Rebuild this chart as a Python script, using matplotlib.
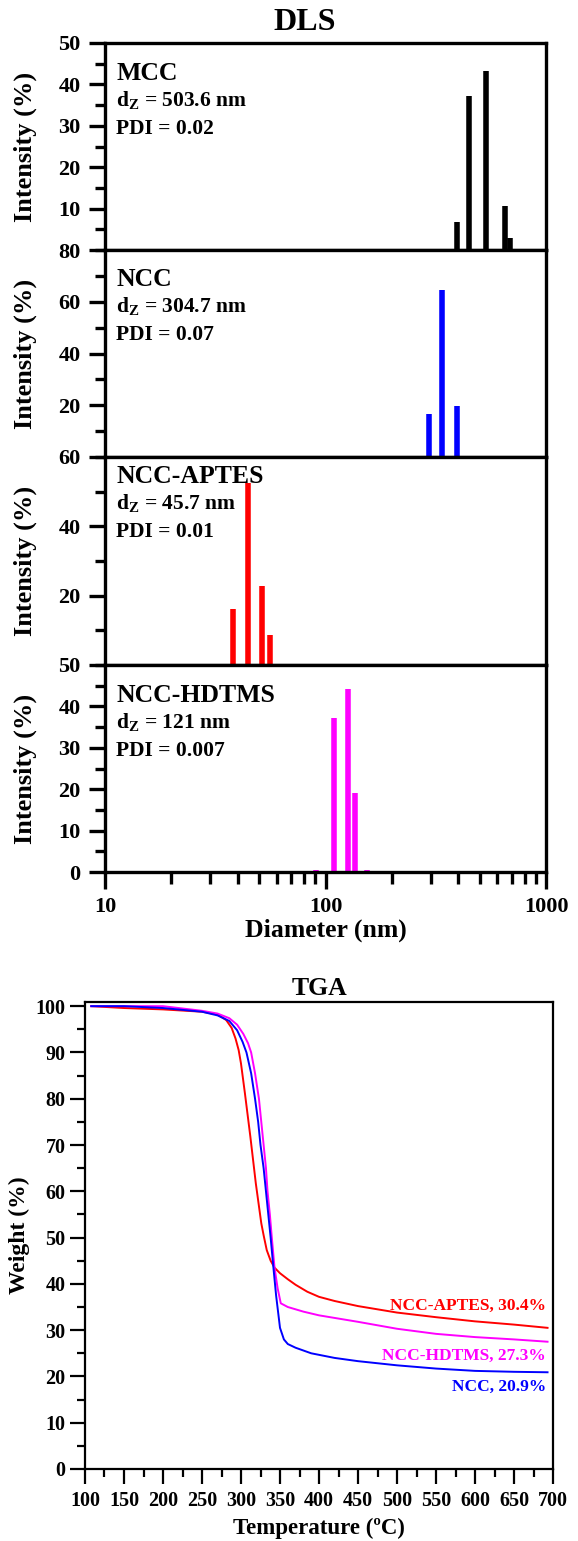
import matplotlib
matplotlib.use("Agg")
import matplotlib.pyplot as plt
from matplotlib.ticker import MultipleLocator, LogLocator, NullFormatter

plt.rcParams["font.family"] = ["Liberation Serif", "DejaVu Serif"]
plt.rcParams["font.weight"] = "bold"
plt.rcParams["mathtext.fontset"] = "custom"
plt.rcParams["mathtext.rm"] = "Liberation Serif:bold"
plt.rcParams["mathtext.it"] = "Liberation Serif:bold"
plt.rcParams["mathtext.bf"] = "Liberation Serif:bold"

# ---- DLS data (diameter nm, intensity %) ----
samples = ["MCC", "NCC", "NCC-APTES", "NCC-HDTMS"]
dz_values = ["503.6", "304.7", "45.7", "121"]
pdi_values = ["0.02", "0.07", "0.01", "0.007"]
colors = ["black", "#0000ff", "#ff0000", "#ff00ff"]

mcc_d = [396, 446, 533, 653, 689]
mcc_i = [6.8, 37.2, 43.2, 10.7, 2.8]
ncc_d = [255, 294, 337, 396, 467]
ncc_i = [0.4, 16.8, 64.5, 19.7, 0.4]
aptes_d = [38.0, 44.5, 51.4, 55.9]
aptes_i = [16.2, 52.4, 22.9, 8.7]
hdtms_d = [91, 109, 127, 136.5, 154.5]
hdtms_i = [0.4, 37.3, 44.2, 19.0, 0.4]

dls_d = [mcc_d, ncc_d, aptes_d, hdtms_d]
dls_i = [mcc_i, ncc_i, aptes_i, hdtms_i]
y_max = [50, 80, 60, 50]
y_major = [10, 20, 20, 10]
x_ticks = [10, 100, 1000]
x_ticklabels = ["10", "100", "1000"]

# ---- TGA data (temperature C, weight %) ----
t_aptes = [108, 150, 200, 250, 270, 281, 288, 293, 297, 300, 305, 312, 319, 326, 329,
           333, 338, 343, 350, 360, 370, 385, 400, 420, 450, 500, 550, 600, 650, 693]
w_aptes = [100, 99.6, 99.3, 98.8, 98.2, 97.0, 95.3, 93.0, 90.5, 87.6, 81.2, 71.8, 61.7, 53.1, 50.5,
           47.3, 45, 43.5, 42.3, 41, 39.8, 38.3, 37.2, 36.3, 35.2, 33.8, 32.8, 31.9, 31.2, 30.5]
t_ncc = [108, 150, 200, 250, 270, 285, 295, 302, 307, 313, 318, 322, 325, 329, 332,
         335, 338, 341, 345, 350, 355, 360, 370, 390, 420, 450, 500, 550, 600, 650, 693]
w_ncc = [100, 100, 99.6, 98.8, 98.0, 96.8, 94.8, 92.3, 90, 85.5, 80, 75, 70, 65, 60,
         55, 50, 44.5, 37.5, 30.5, 28, 27, 26.2, 25, 24, 23.3, 22.4, 21.7, 21.2, 21.0, 20.9]
t_hdtms = [108, 150, 200, 250, 270, 285, 295, 303, 309, 313, 318, 323, 326, 329, 332,
           334, 337, 339.5, 343, 347, 351, 360, 380, 400, 450, 500, 550, 600, 650, 693]
w_hdtms = [100, 100, 100, 99.0, 98.4, 97.4, 96, 94, 92, 90, 85.5, 80, 75, 70, 65,
           60, 55, 50, 43.5, 39, 35.8, 35, 34, 33.2, 31.8, 30.3, 29.2, 28.5, 28, 27.5]

tga_labels = ["NCC-APTES, 30.4%", "NCC-HDTMS, 27.3%", "NCC, 20.9%"]
tga_label_y = [34.3, 23.5, 16.8]
tga_colors = ["#ff0000", "#ff00ff", "#0000ff"]

W, H = 578, 1541
fig = plt.figure(figsize=(W / 100, H / 100), dpi=100)


def px_axes(left, top, right, bottom, **kw):
    return fig.add_axes([left / W, 1 - bottom / H, (right - left) / W, (bottom - top) / H], **kw)


# ---- DLS panels ----
tops = [43, 250, 457, 665, 872]
name_off = [37, 36, 26, 37]
axes = []
for k in range(4):
    ax = px_axes(105, tops[k], 546, tops[k + 1], sharex=axes[0] if axes else None)
    axes.append(ax)
    ax.vlines(dls_d[k], 0, dls_i[k], colors=colors[k], lw=4)
    ax.set_xscale("log")
    ax.set_xlim(10, 1000)
    ax.set_ylim(0, y_max[k])
    start = 0 if k == 3 else y_major[k]
    ax.set_yticks(list(range(start, y_max[k] + 1, y_major[k])))
    ax.yaxis.set_minor_locator(MultipleLocator(y_major[k] / 2))
    for s in ax.spines.values():
        s.set_linewidth(2.4)
    ax.tick_params(axis="y", which="major", direction="out", length=11.5, width=2.4,
                   pad=6, labelsize=16)
    ax.tick_params(axis="y", which="minor", direction="out", length=7, width=2.4)
    ax.tick_params(axis="y", right=False)
    ax.set_ylabel("Intensity (%)", fontsize=19, fontweight="bold")
    ax.yaxis.set_label_coords(-0.154, 0.5)
    hpx = tops[k + 1] - tops[k]
    x0 = 0.025
    ax.text(x0, 1 - name_off[k] / hpx, samples[k], transform=ax.transAxes,
            fontsize=18.5, fontweight="bold", va="baseline", ha="left")
    ax.text(x0, 1 - (name_off[k] + 26) / hpx, "d$_{Z}$ = " + dz_values[k] + " nm",
            transform=ax.transAxes, fontsize=15.5, fontweight="bold", va="baseline", ha="left")
    ax.text(x0, 1 - (name_off[k] + 54) / hpx, "PDI = " + pdi_values[k],
            transform=ax.transAxes, fontsize=15.5, fontweight="bold", va="baseline", ha="left")
    if k < 3:
        ax.tick_params(axis="x", which="both", bottom=False, top=False, labelbottom=False)

bx = axes[3]
bx.set_xticks(x_ticks)
bx.set_xticklabels(x_ticklabels)
bx.xaxis.set_minor_locator(LogLocator(base=10, subs=range(2, 10)))
bx.xaxis.set_minor_formatter(NullFormatter())
bx.tick_params(axis="x", which="major", direction="out", length=12, width=2.4, pad=6,
               labelsize=16, top=False)
bx.tick_params(axis="x", which="minor", direction="out", length=8.5, width=2.4, top=False)
bx.set_xlabel("Diameter (nm)", fontsize=18.5, fontweight="bold")
bx.xaxis.set_label_coords(0.5, -0.225)
fig.text(305 / W, 1 - 30 / H, "DLS", fontsize=23, fontweight="bold", ha="center", va="baseline")

# ---- TGA ----
tx = px_axes(85, 1002, 553, 1469)
tx.plot(t_aptes, w_aptes, color=tga_colors[0], lw=1.4)
tx.plot(t_hdtms, w_hdtms, color=tga_colors[1], lw=1.4)
tx.plot(t_ncc, w_ncc, color=tga_colors[2], lw=1.4)
for lab, yl, c in zip(tga_labels, tga_label_y, tga_colors):
    tx.text(691, yl, lab, color=c, fontsize=12.5, fontweight="bold", ha="right", va="baseline")
tx.set_xlim(100, 700)
tx.set_ylim(0, 100.9)
tx.xaxis.set_major_locator(MultipleLocator(50))
tx.xaxis.set_minor_locator(MultipleLocator(25))
tx.yaxis.set_major_locator(MultipleLocator(10))
tx.yaxis.set_minor_locator(MultipleLocator(5))
for s in tx.spines.values():
    s.set_linewidth(1.6)
tx.tick_params(which="major", direction="out", length=11, width=1.6, labelsize=14.5)
tx.tick_params(which="minor", direction="out", length=6, width=1.6)
tx.tick_params(axis="x", which="major", pad=5)
tx.tick_params(axis="y", which="major", pad=3)
tx.set_title("TGA", fontsize=18.5, fontweight="bold", pad=5)
tx.set_xlabel("Temperature (ºC)", fontsize=16.5, fontweight="bold")
tx.xaxis.set_label_coords(0.5, -0.105)
tx.set_ylabel("Weight (%)", fontsize=17, fontweight="bold")
tx.yaxis.set_label_coords(-0.1175, 0.5)

fig.savefig("out.png", dpi=100)
